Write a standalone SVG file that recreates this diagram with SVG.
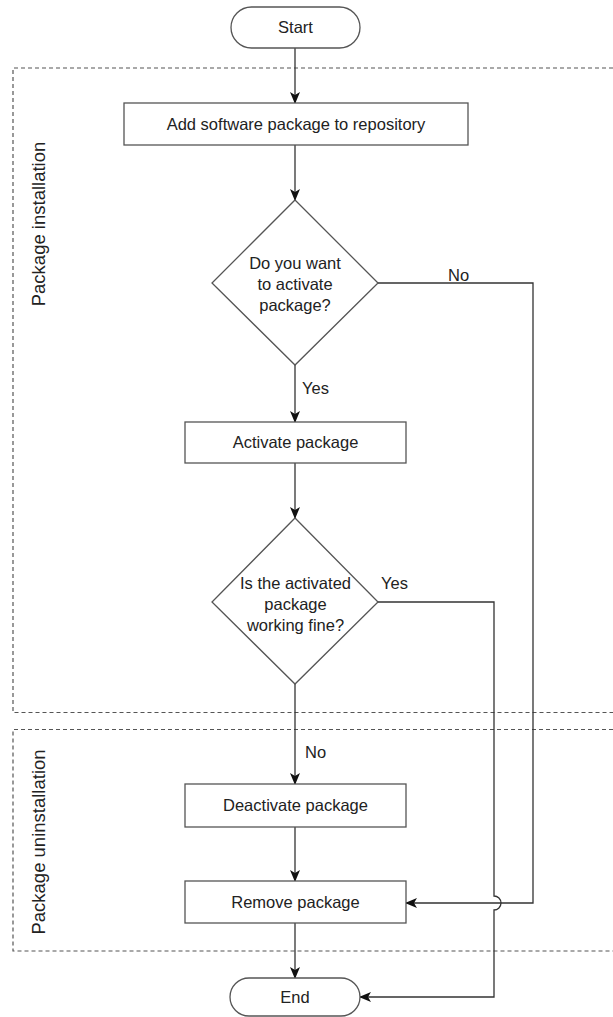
<svg xmlns="http://www.w3.org/2000/svg" width="613" height="1017" viewBox="0 0 613 1017">
  <style>
    .shape { fill: #ffffff; stroke: #555555; stroke-width: 1.3; }
    .conn { fill: none; stroke: #333333; stroke-width: 1.3; }
    .region { fill: none; stroke: #555555; stroke-width: 1.2; stroke-dasharray: 4 3; }
    text { font-family: "Liberation Sans", Arial, Helvetica, sans-serif; fill: #222222; }
    .lbl { font-size: 16.5px; text-anchor: middle; }
    .edge { font-size: 16.5px; }
    .side { font-size: 18.5px; text-anchor: middle; }
  </style>
  <defs>
    <marker id="arrow" markerUnits="userSpaceOnUse" markerWidth="12" markerHeight="10" refX="11" refY="5" orient="auto">
      <path d="M0,0 L12,5 L0,10 L3,5 Z" fill="#111111"/>
    </marker>
  </defs>
  <rect width="613" height="1017" fill="#ffffff"/>

  <g id="regions">
    <path class="region" d="M613,68 H13 V712.5 H613"/>
    <path class="region" d="M613,729.5 H13 V951 H613"/>
    <text class="side" transform="translate(45,224) rotate(-90)">Package installation</text>
    <text class="side" transform="translate(45,842) rotate(-90)">Package uninstallation</text>
  </g>

  <g id="connectors">
    <path class="conn" d="M295,48 V103" marker-end="url(#arrow)"/>
    <path class="conn" d="M295,145 V200" marker-end="url(#arrow)"/>
    <path class="conn" d="M295,365 V422" marker-end="url(#arrow)"/>
    <path class="conn" d="M378,283 H533 V903 H406" marker-end="url(#arrow)"/>
    <path class="conn" d="M295,463 V518" marker-end="url(#arrow)"/>
    <path class="conn" d="M295,684 V784" marker-end="url(#arrow)"/>
    <path class="conn" d="M378,602 H494 V896 A7,7 0 0 1 494,910 V997 H360" marker-end="url(#arrow)"/>
    <path class="conn" d="M295,827 V881" marker-end="url(#arrow)"/>
    <path class="conn" d="M295,923 V978" marker-end="url(#arrow)"/>
    <text class="edge" x="302" y="394">Yes</text>
    <text class="edge" x="448" y="281">No</text>
    <text class="edge" x="381" y="589">Yes</text>
    <text class="edge" x="305" y="758">No</text>
  </g>

  <g id="start">
    <rect class="shape" x="231" y="7" width="129" height="41" rx="20.5" ry="20.5"/>
    <text class="lbl" x="295.5" y="33">Start</text>
  </g>

  <g id="add">
    <rect class="shape" x="124" y="103" width="344" height="42"/>
    <text class="lbl" x="296" y="130">Add software package to repository</text>
  </g>

  <g id="decision-activate">
    <polygon class="shape" points="295,200 378,283 295,365 212,283"/>
    <text class="lbl" x="295" y="269">Do you want</text>
    <text class="lbl" x="295" y="290">to activate</text>
    <text class="lbl" x="295" y="311">package?</text>
  </g>

  <g id="activate">
    <rect class="shape" x="185" y="422" width="221" height="41"/>
    <text class="lbl" x="295.5" y="448">Activate package</text>
  </g>

  <g id="decision-working">
    <polygon class="shape" points="295,518 378,602 295,684 212,602"/>
    <text class="lbl" x="295.5" y="589">Is the activated</text>
    <text class="lbl" x="295.5" y="610">package</text>
    <text class="lbl" x="295.5" y="631">working fine?</text>
  </g>

  <g id="deactivate">
    <rect class="shape" x="185" y="784" width="221" height="43"/>
    <text class="lbl" x="295.5" y="811">Deactivate package</text>
  </g>

  <g id="remove">
    <rect class="shape" x="185" y="881" width="221" height="42"/>
    <text class="lbl" x="295.5" y="908">Remove package</text>
  </g>

  <g id="end">
    <rect class="shape" x="230" y="978" width="130" height="38" rx="19" ry="19"/>
    <text class="lbl" x="295" y="1003">End</text>
  </g>
</svg>
